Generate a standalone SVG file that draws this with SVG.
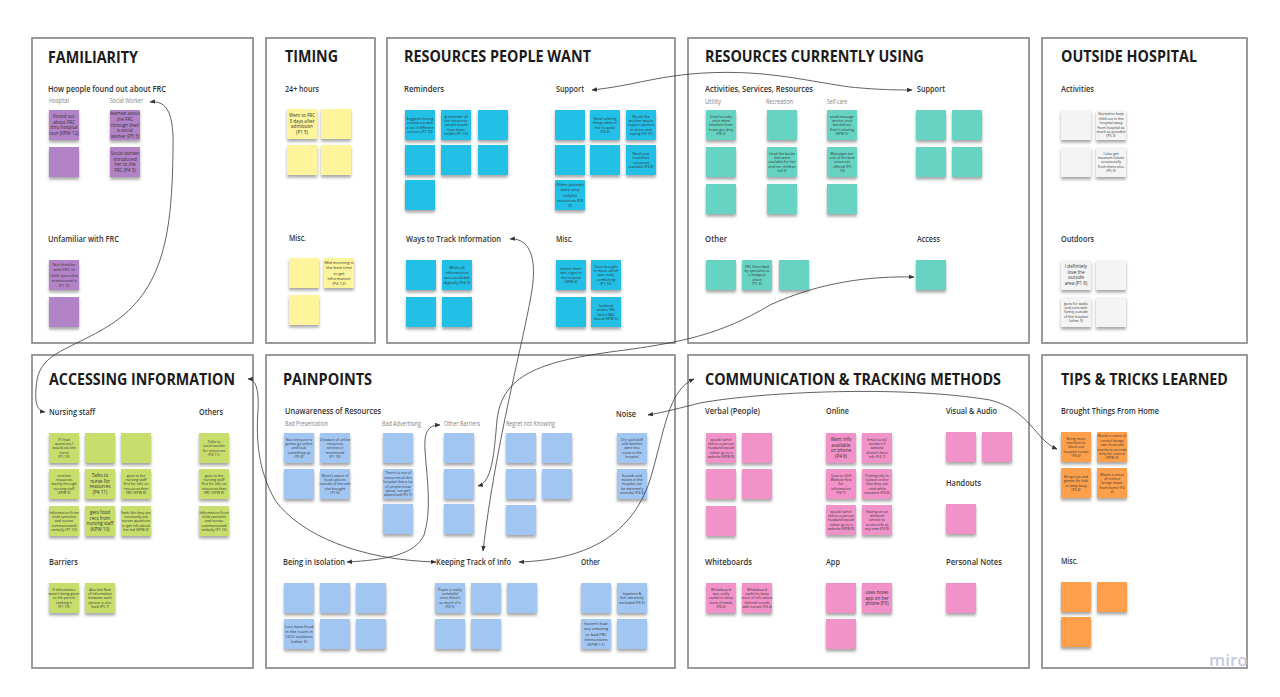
<svg xmlns="http://www.w3.org/2000/svg" width="1280" height="697" viewBox="0 0 1280 697">
<defs>
<style>
.p{fill:#fff;stroke:#8a8a8a;stroke-width:1.7}
.t{font-family:"Open Sans","Liberation Sans",sans-serif;font-weight:700;font-size:16.5px;fill:#1b1b1b}
.h{font-family:"Open Sans","Liberation Sans",sans-serif;font-weight:600;font-size:9.3px;fill:#333}
.s{font-family:"Open Sans","Liberation Sans",sans-serif;font-weight:400;font-size:6.5px;fill:#808080}
.n{font-family:"Open Sans","Liberation Sans",sans-serif;font-size:3.6px;fill:#333;text-anchor:middle}
.nm{font-family:"Open Sans","Liberation Sans",sans-serif;font-size:4.2px;fill:#333;text-anchor:middle}
.nb{font-family:"Open Sans","Liberation Sans",sans-serif;font-size:4.6px;fill:#333;text-anchor:middle}
.pu{fill:#b383c8;filter:url(#sh)}
.ye{fill:#fdf49c;filter:url(#sh)}
.cy{fill:#23bfe7;filter:url(#sh)}
.te{fill:#66d3c3;filter:url(#sh)}
.wh{fill:#f4f4f4;filter:url(#sh)}
.gr{fill:#c8de6c;filter:url(#sh)}
.lb{fill:#a2c6f2;filter:url(#sh)}
.pk{fill:#f192c9;filter:url(#sh)}
.or{fill:#fe9f4b;filter:url(#sh)}
.c{fill:none;stroke:#3a3a3a;stroke-width:0.8;marker-start:url(#ah);marker-end:url(#ah)}
</style>
<filter id="sh" x="-20%" y="-20%" width="140%" height="170%">
<feDropShadow dx="0" dy="2.5" stdDeviation="1.4" flood-color="#000" flood-opacity="0.35"/>
</filter>
<marker id="ah" viewBox="0 0 10 10" refX="9" refY="5" markerWidth="5.5" markerHeight="5.5" orient="auto-start-reverse" markerUnits="userSpaceOnUse">
<path d="M0,1 L10,5 L0,9 z" fill="#333"/>
</marker>
</defs>
<rect x="0" y="0" width="1280" height="697" fill="#fff"/>

<!-- Panels -->
<g id="panels">
<rect class="p" x="32" y="38" width="221" height="305"/>
<rect class="p" x="266" y="38" width="109" height="305"/>
<rect class="p" x="387" y="38" width="288" height="305"/>
<rect class="p" x="688" y="38" width="341" height="305"/>
<rect class="p" x="1042" y="38" width="205" height="305"/>
<rect class="p" x="32" y="355" width="221" height="313"/>
<rect class="p" x="266" y="355" width="409" height="313"/>
<rect class="p" x="688" y="355" width="341" height="313"/>
<rect class="p" x="1042" y="355" width="205" height="313"/>
</g>

<!-- FAMILIARITY -->
<g id="familiarity">
<text class="t" x="48" y="63" textLength="90" lengthAdjust="spacingAndGlyphs">FAMILIARITY</text>
<text class="h" x="48" y="92" textLength="118" lengthAdjust="spacingAndGlyphs">How people found out about FRC</text>
<text class="s" x="49" y="103" textLength="20" lengthAdjust="spacingAndGlyphs">Hospital</text>
<text class="s" x="110" y="103" textLength="33" lengthAdjust="spacingAndGlyphs">Social Worker</text>
<text class="h" x="48" y="242" textLength="71" lengthAdjust="spacingAndGlyphs">Unfamiliar with FRC</text>
<g id="fam-1"><rect class="pu" x="49" y="110" width="30" height="30"/><text class="nb" x="64" y="118.2"><tspan x="64">Found out</tspan><tspan x="64" dy="5.6">about FRC</tspan><tspan x="64" dy="5.6">thru hospital</tspan><tspan x="64" dy="5.6">tour (KPW 12)</tspan></text></g>
<g id="fam-2"><rect class="pu" x="49" y="147" width="30" height="30"/></g>
<g id="fam-3"><rect class="pu" x="110" y="110" width="30" height="30"/><text class="nb" x="125" y="115.4"><tspan x="125">learned about</tspan><tspan x="125" dy="5.6">the FRC</tspan><tspan x="125" dy="5.6">through their</tspan><tspan x="125" dy="5.6">a social</tspan><tspan x="125" dy="5.6">worker (P5 3)</tspan></text></g>
<g id="fam-4"><rect class="pu" x="110" y="147" width="30" height="30"/><text class="nb" x="125" y="155.2"><tspan x="125">Social worker</tspan><tspan x="125" dy="5.6">introduced</tspan><tspan x="125" dy="5.6">her to the</tspan><tspan x="125" dy="5.6">FRC (P4 3)</tspan></text></g>
<g id="fam-5"><rect class="pu" x="49" y="260" width="30" height="30"/><text class="nm" x="64" y="266.1"><tspan x="64">Not familiar</tspan><tspan x="64" dy="5.2">with FRC til</tspan><tspan x="64" dy="5.2">child specialist</tspan><tspan x="64" dy="5.2">mentioned it</tspan><tspan x="64" dy="5.2">(P1 3)</tspan></text></g>
<g id="fam-6"><rect class="pu" x="49" y="297" width="30" height="30"/></g>
</g>

<!-- TIMING -->
<g id="timing">
<text class="t" x="285" y="62" textLength="53" lengthAdjust="spacingAndGlyphs">TIMING</text>
<text class="h" x="285" y="92" textLength="34" lengthAdjust="spacingAndGlyphs">24+ hours</text>
<text class="h" x="289" y="241" textLength="17" lengthAdjust="spacingAndGlyphs">Misc.</text>
<g id="tim-1"><rect class="ye" x="287" y="109" width="30" height="30"/><text class="nb" x="302" y="117.2"><tspan x="302">Went to FRC</tspan><tspan x="302" dy="5.6">3 days after</tspan><tspan x="302" dy="5.6">admission</tspan><tspan x="302" dy="5.6">(P1 5)</tspan></text></g>
<g id="tim-2"><rect class="ye" x="321" y="109" width="30" height="30"/></g>
<g id="tim-3"><rect class="ye" x="287" y="145" width="30" height="30"/></g>
<g id="tim-4"><rect class="ye" x="321" y="145" width="30" height="30"/></g>
<g id="tim-5"><rect class="ye" x="289" y="258" width="30" height="30"/></g>
<g id="tim-6"><rect class="ye" x="324" y="258" width="30" height="30"/><text class="nm" x="339" y="264.1"><tspan x="339">Mid morning is</tspan><tspan x="339" dy="5.2">the best time</tspan><tspan x="339" dy="5.2">to get</tspan><tspan x="339" dy="5.2">information</tspan><tspan x="339" dy="5.2">(P4 12)</tspan></text></g>
<g id="tim-7"><rect class="ye" x="289" y="295" width="30" height="30"/></g>
</g>

<!-- RESOURCES PEOPLE WANT -->
<g id="resources-want">
<text class="t" x="404" y="62" textLength="187" lengthAdjust="spacingAndGlyphs">RESOURCES PEOPLE WANT</text>
<text class="h" x="404" y="92" textLength="40" lengthAdjust="spacingAndGlyphs">Reminders</text>
<text class="h" x="556" y="92" textLength="28" lengthAdjust="spacingAndGlyphs">Support</text>
<text class="h" x="406" y="242" textLength="95" lengthAdjust="spacingAndGlyphs">Ways to Track Information</text>
<text class="h" x="556" y="242" textLength="17" lengthAdjust="spacingAndGlyphs">Misc.</text>
<g id="rw-1"><rect class="cy" x="405" y="110" width="30" height="30"/><text class="n" x="420" y="119.7"><tspan x="420">Suggests having</tspan><tspan x="420" dy="4.4">a hand out with</tspan><tspan x="420" dy="4.4">a list of different</tspan><tspan x="420" dy="4.4">sources (P1 10)</tspan></text></g>
<g id="rw-2"><rect class="cy" x="441" y="110" width="30" height="30"/><text class="n" x="456" y="117.5"><tspan x="456">A reminder of</tspan><tspan x="456" dy="4.4">the resources</tspan><tspan x="456" dy="4.4">people would</tspan><tspan x="456" dy="4.4">have been</tspan><tspan x="456" dy="4.4">helpful (P1 10)</tspan></text></g>
<g id="rw-3"><rect class="cy" x="478" y="110" width="30" height="30"/></g>
<g id="rw-4"><rect class="cy" x="405" y="145" width="30" height="30"/></g>
<g id="rw-5"><rect class="cy" x="441" y="145" width="30" height="30"/></g>
<g id="rw-6"><rect class="cy" x="478" y="145" width="30" height="30"/></g>
<g id="rw-7"><rect class="cy" x="405" y="180" width="30" height="30"/></g>
<g id="rw-8"><rect class="cy" x="555" y="110" width="30" height="30"/></g>
<g id="rw-9"><rect class="cy" x="590" y="110" width="30" height="30"/><text class="n" x="605" y="119.7"><tspan x="605">Need calming</tspan><tspan x="605" dy="4.4">things while in</tspan><tspan x="605" dy="4.4">the hospital</tspan><tspan x="605" dy="4.4">(P4 4)</tspan></text></g>
<g id="rw-10"><rect class="cy" x="626" y="110" width="30" height="30"/><text class="n" x="641" y="117.5"><tspan x="641">Would like</tspan><tspan x="641" dy="4.4">another way to</tspan><tspan x="641" dy="4.4">support parents</tspan><tspan x="641" dy="4.4">in stress and</tspan><tspan x="641" dy="4.4">coping (P4 10)</tspan></text></g>
<g id="rw-11"><rect class="cy" x="555" y="145" width="30" height="30"/></g>
<g id="rw-12"><rect class="cy" x="590" y="145" width="30" height="30"/></g>
<g id="rw-13"><rect class="cy" x="626" y="145" width="30" height="30"/><text class="n" x="641" y="154.7"><tspan x="641">Need post</tspan><tspan x="641" dy="4.4">treatment</tspan><tspan x="641" dy="4.4">resources</tspan><tspan x="641" dy="4.4">available (P4 8)</tspan></text></g>
<g id="rw-14"><rect class="cy" x="555" y="180" width="30" height="30"/><text class="nm" x="570" y="186.1"><tspan x="570">Other parents</tspan><tspan x="570" dy="5.2">were very</tspan><tspan x="570" dy="5.2">helpful</tspan><tspan x="570" dy="5.2">resources (P4</tspan><tspan x="570" dy="5.2">9)</tspan></text></g>
<g id="rw-15"><rect class="cy" x="406" y="260" width="30" height="30"/></g>
<g id="rw-16"><rect class="cy" x="442" y="260" width="30" height="30"/><text class="nm" x="457" y="268.7"><tspan x="457">Wish all</tspan><tspan x="457" dy="5.2">information</tspan><tspan x="457" dy="5.2">was available</tspan><tspan x="457" dy="5.2">digitally (P4 5)</tspan></text></g>
<g id="rw-17"><rect class="cy" x="406" y="297" width="30" height="30"/></g>
<g id="rw-18"><rect class="cy" x="442" y="297" width="30" height="30"/></g>
<g id="rw-19"><rect class="cy" x="556" y="260" width="30" height="30"/><text class="n" x="571" y="269.7"><tspan x="571">wishes there</tspan><tspan x="571" dy="4.4">was a gym in</tspan><tspan x="571" dy="4.4">the hospital</tspan><tspan x="571" dy="4.4">(KPW 4)</tspan></text></g>
<g id="rw-20"><rect class="cy" x="591" y="260" width="30" height="30"/><text class="n" x="606" y="267.5"><tspan x="606">Dose brought</tspan><tspan x="606" dy="4.4">in music which</tspan><tspan x="606" dy="4.4">was really</tspan><tspan x="606" dy="4.4">comforting</tspan><tspan x="606" dy="4.4">(P1 10)</tspan></text></g>
<g id="rw-21"><rect class="cy" x="556" y="297" width="30" height="30"/></g>
<g id="rw-22"><rect class="cy" x="591" y="297" width="30" height="30"/><text class="n" x="606" y="306.7"><tspan x="606">husband</tspan><tspan x="606" dy="4.4">wishes FRC</tspan><tspan x="606" dy="4.4">had a FAQ</tspan><tspan x="606" dy="4.4">board (KPW 5)</tspan></text></g>
</g>

<!-- RESOURCES CURRENTLY USING -->
<g id="resources-using">
<text class="t" x="705" y="62" textLength="219" lengthAdjust="spacingAndGlyphs">RESOURCES CURRENTLY USING</text>
<text class="h" x="705" y="92" textLength="108" lengthAdjust="spacingAndGlyphs">Activities, Services, Resources</text>
<text class="h" x="917" y="92" textLength="28" lengthAdjust="spacingAndGlyphs">Support</text>
<text class="s" x="705" y="104" textLength="16" lengthAdjust="spacingAndGlyphs">Utility</text>
<text class="s" x="766" y="104" textLength="27" lengthAdjust="spacingAndGlyphs">Recreation</text>
<text class="s" x="827" y="104" textLength="20" lengthAdjust="spacingAndGlyphs">Self-care</text>
<text class="h" x="705" y="242" textLength="22" lengthAdjust="spacingAndGlyphs">Other</text>
<text class="h" x="917" y="242" textLength="23" lengthAdjust="spacingAndGlyphs">Access</text>
<g id="ru-1"><rect class="te" x="706" y="110" width="30" height="30"/><text class="n" x="721" y="117.5"><tspan x="721">Used laundry</tspan><tspan x="721" dy="4.4">once when</tspan><tspan x="721" dy="4.4">blankets from</tspan><tspan x="721" dy="4.4">home got dirty</tspan><tspan x="721" dy="4.4">(P4 3)</tspan></text></g>
<g id="ru-2"><rect class="te" x="767" y="110" width="30" height="30"/></g>
<g id="ru-3"><rect class="te" x="827" y="110" width="30" height="30"/><text class="n" x="842" y="117.5"><tspan x="842">used massage</tspan><tspan x="842" dy="4.4">service once</tspan><tspan x="842" dy="4.4">but did not</tspan><tspan x="842" dy="4.4">find it relaxing</tspan><tspan x="842" dy="4.4">(KPW 5)</tspan></text></g>
<g id="ru-4"><rect class="te" x="706" y="147" width="30" height="30"/></g>
<g id="ru-5"><rect class="te" x="767" y="147" width="30" height="30"/><text class="n" x="782" y="154.5"><tspan x="782">Used the books</tspan><tspan x="782" dy="4.4">that were</tspan><tspan x="782" dy="4.4">available for her</tspan><tspan x="782" dy="4.4">and her children</tspan><tspan x="782" dy="4.4">(x4 3)</tspan></text></g>
<g id="ru-6"><rect class="te" x="827" y="147" width="30" height="30"/><text class="n" x="842" y="154.5"><tspan x="842">Massages are</tspan><tspan x="842" dy="4.4">one of the best</tspan><tspan x="842" dy="4.4">resources</tspan><tspan x="842" dy="4.4">offered (P5</tspan><tspan x="842" dy="4.4">13)</tspan></text></g>
<g id="ru-7"><rect class="te" x="706" y="184" width="30" height="30"/></g>
<g id="ru-8"><rect class="te" x="767" y="184" width="30" height="30"/></g>
<g id="ru-9"><rect class="te" x="827" y="184" width="30" height="30"/></g>
<g id="ru-10"><rect class="te" x="916" y="110" width="30" height="30"/></g>
<g id="ru-11"><rect class="te" x="952" y="110" width="30" height="30"/></g>
<g id="ru-12"><rect class="te" x="916" y="147" width="30" height="30"/></g>
<g id="ru-13"><rect class="te" x="952" y="147" width="30" height="30"/></g>
<g id="ru-14"><rect class="te" x="706" y="260" width="30" height="30"/></g>
<g id="ru-15"><rect class="te" x="742" y="260" width="30" height="30"/><text class="n" x="757" y="267.5"><tspan x="757">FRC Described</tspan><tspan x="757" dy="4.4">by specialist as</tspan><tspan x="757" dy="4.4">a hangout</tspan><tspan x="757" dy="4.4">place</tspan><tspan x="757" dy="4.4">(P1 4)</tspan></text></g>
<g id="ru-16"><rect class="te" x="779" y="260" width="30" height="30"/></g>
<g id="ru-17"><rect class="te" x="916" y="260" width="30" height="30"/></g>
</g>

<!-- OUTSIDE HOSPITAL -->
<g id="outside-hospital">
<text class="t" x="1061" y="62" textLength="136" lengthAdjust="spacingAndGlyphs">OUTSIDE HOSPITAL</text>
<text class="h" x="1061" y="92" textLength="33" lengthAdjust="spacingAndGlyphs">Activities</text>
<text class="h" x="1061" y="242" textLength="33" lengthAdjust="spacingAndGlyphs">Outdoors</text>
<g id="oh-1"><rect class="wh" x="1061" y="110" width="30" height="30"/></g>
<g id="oh-2"><rect class="wh" x="1096" y="110" width="30" height="30"/><text class="n" x="1111" y="115.3"><tspan x="1111">Started to keep</tspan><tspan x="1111" dy="4.4">child out in the</tspan><tspan x="1111" dy="4.4">hospital away</tspan><tspan x="1111" dy="4.4">from hospital as</tspan><tspan x="1111" dy="4.4">much as possible</tspan><tspan x="1111" dy="4.4">(P5 3)</tspan></text></g>
<g id="oh-3"><rect class="wh" x="1061" y="147" width="30" height="30"/></g>
<g id="oh-4"><rect class="wh" x="1096" y="147" width="30" height="30"/><text class="n" x="1111" y="154.5"><tspan x="1111">I also get</tspan><tspan x="1111" dy="4.4">museum tickets</tspan><tspan x="1111" dy="4.4">occasionally</tspan><tspan x="1111" dy="4.4">from there also</tspan><tspan x="1111" dy="4.4">(P5 3)</tspan></text></g>
<g id="oh-5"><rect class="wh" x="1061" y="260" width="30" height="30"/><text class="nb" x="1076" y="268.2"><tspan x="1076">I definitely</tspan><tspan x="1076" dy="5.6">love the</tspan><tspan x="1076" dy="5.6">outside</tspan><tspan x="1076" dy="5.6">area (P1 8)</tspan></text></g>
<g id="oh-6"><rect class="wh" x="1096" y="260" width="30" height="30"/></g>
<g id="oh-7"><rect class="wh" x="1061" y="297" width="30" height="30"/><text class="n" x="1076" y="304.5"><tspan x="1076">goes for walks</tspan><tspan x="1076" dy="4.4">and runs with</tspan><tspan x="1076" dy="4.4">family outside</tspan><tspan x="1076" dy="4.4">of the hospital</tspan><tspan x="1076" dy="4.4">(other 5)</tspan></text></g>
<g id="oh-8"><rect class="wh" x="1096" y="297" width="30" height="30"/></g>
</g>

<!-- ACCESSING INFORMATION -->
<g id="accessing-information">
<text class="t" x="49" y="385" textLength="186" lengthAdjust="spacingAndGlyphs">ACCESSING INFORMATION</text>
<text class="h" x="49" y="415" textLength="46" lengthAdjust="spacingAndGlyphs">Nursing staff</text>
<text class="h" x="199" y="415" textLength="24" lengthAdjust="spacingAndGlyphs">Others</text>
<text class="h" x="49" y="565" textLength="29" lengthAdjust="spacingAndGlyphs">Barriers</text>
<g id="ai-1"><rect class="gr" x="49" y="433" width="30" height="30"/><text class="n" x="64" y="440.5"><tspan x="64">If I had</tspan><tspan x="64" dy="4.4">questions I</tspan><tspan x="64" dy="4.4">would ask the</tspan><tspan x="64" dy="4.4">nurse</tspan><tspan x="64" dy="4.4">(P1 10)</tspan></text></g>
<g id="ai-2"><rect class="gr" x="85" y="433" width="30" height="30"/></g>
<g id="ai-3"><rect class="gr" x="121" y="433" width="30" height="30"/></g>
<g id="ai-4"><rect class="gr" x="49" y="469" width="30" height="30"/><text class="n" x="64" y="476.5"><tspan x="64">receives</tspan><tspan x="64" dy="4.4">resources</tspan><tspan x="64" dy="4.4">mainly through</tspan><tspan x="64" dy="4.4">nursing staff</tspan><tspan x="64" dy="4.4">(KPW 9)</tspan></text></g>
<g id="ai-5"><rect class="gr" x="85" y="469" width="30" height="30"/><text class="nb" x="100" y="477.2"><tspan x="100">Talks to</tspan><tspan x="100" dy="5.6">nurse for</tspan><tspan x="100" dy="5.6">resources</tspan><tspan x="100" dy="5.6">(P4 11)</tspan></text></g>
<g id="ai-6"><rect class="gr" x="121" y="469" width="30" height="30"/><text class="n" x="136" y="476.5"><tspan x="136">goes to the</tspan><tspan x="136" dy="4.4">nursing staff</tspan><tspan x="136" dy="4.4">first for info on</tspan><tspan x="136" dy="4.4">resources then</tspan><tspan x="136" dy="4.4">FRC (KPW 8)</tspan></text></g>
<g id="ai-7"><rect class="gr" x="49" y="506" width="30" height="30"/><text class="n" x="64" y="513.5"><tspan x="64">Information from</tspan><tspan x="64" dy="4.4">child specialist</tspan><tspan x="64" dy="4.4">and nurses</tspan><tspan x="64" dy="4.4">communicated</tspan><tspan x="64" dy="4.4">verbally (P1 10)</tspan></text></g>
<g id="ai-8"><rect class="gr" x="85" y="506" width="30" height="30"/><text class="nb" x="100" y="514.2"><tspan x="100">gets food</tspan><tspan x="100" dy="5.6">recs from</tspan><tspan x="100" dy="5.6">nursing staff</tspan><tspan x="100" dy="5.6">(KPW 10)</tspan></text></g>
<g id="ai-9"><rect class="gr" x="121" y="506" width="30" height="30"/><text class="n" x="136" y="513.5"><tspan x="136">feels like they can</tspan><tspan x="136" dy="4.4">constantly ask</tspan><tspan x="136" dy="4.4">nurses questions</tspan><tspan x="136" dy="4.4">to get info about</tspan><tspan x="136" dy="4.4">her kid (KPW 4)</tspan></text></g>
<g id="ai-10"><rect class="gr" x="199" y="433" width="30" height="30"/><text class="n" x="214" y="442.7"><tspan x="214">Talks to</tspan><tspan x="214" dy="4.4">social worker</tspan><tspan x="214" dy="4.4">for resources</tspan><tspan x="214" dy="4.4">(P4 11)</tspan></text></g>
<g id="ai-11"><rect class="gr" x="199" y="469" width="30" height="30"/><text class="n" x="214" y="476.5"><tspan x="214">goes to the</tspan><tspan x="214" dy="4.4">nursing staff</tspan><tspan x="214" dy="4.4">first for info on</tspan><tspan x="214" dy="4.4">resources then</tspan><tspan x="214" dy="4.4">FRC (KPW 8)</tspan></text></g>
<g id="ai-12"><rect class="gr" x="199" y="506" width="30" height="30"/><text class="n" x="214" y="513.5"><tspan x="214">Information from</tspan><tspan x="214" dy="4.4">child specialist</tspan><tspan x="214" dy="4.4">and nurses</tspan><tspan x="214" dy="4.4">communicated</tspan><tspan x="214" dy="4.4">verbally (P1 10)</tspan></text></g>
<g id="ai-13"><rect class="gr" x="49" y="583" width="30" height="30"/><text class="n" x="64" y="590.5"><tspan x="64">If information</tspan><tspan x="64" dy="4.4">wasn't being given</tspan><tspan x="64" dy="4.4">to the parent</tspan><tspan x="64" dy="4.4">seeking it</tspan><tspan x="64" dy="4.4">(P1 10)</tspan></text></g>
<g id="ai-14"><rect class="gr" x="85" y="583" width="30" height="30"/><text class="n" x="100" y="590.5"><tspan x="100">Also the flow</tspan><tspan x="100" dy="4.4">of information</tspan><tspan x="100" dy="4.4">between each</tspan><tspan x="100" dy="4.4">person is also</tspan><tspan x="100" dy="4.4">hard (P5 7)</tspan></text></g>
</g>

<!-- PAINPOINTS -->
<g id="painpoints">
<text class="t" x="283" y="385" textLength="89" lengthAdjust="spacingAndGlyphs">PAINPOINTS</text>
<text class="h" x="285" y="414" textLength="96" lengthAdjust="spacingAndGlyphs">Unawareness of Resources</text>
<text class="s" x="285" y="426" textLength="43" lengthAdjust="spacingAndGlyphs">Bad Presentation</text>
<text class="s" x="382" y="426" textLength="39" lengthAdjust="spacingAndGlyphs">Bad Advertising</text>
<text class="s" x="444" y="426" textLength="36" lengthAdjust="spacingAndGlyphs">Other Barriers</text>
<text class="s" x="506" y="426" textLength="49" lengthAdjust="spacingAndGlyphs">Regret not Knowing</text>
<text class="h" x="616" y="417" textLength="20" lengthAdjust="spacingAndGlyphs">Noise</text>
<text class="h" x="283" y="565" textLength="62" lengthAdjust="spacingAndGlyphs">Being in Isolation</text>
<text class="h" x="436" y="565" textLength="75" lengthAdjust="spacingAndGlyphs">Keeping Track of Info</text>
<text class="h" x="581" y="565" textLength="19" lengthAdjust="spacingAndGlyphs">Other</text>
<g id="pp-1"><rect class="lb" x="284" y="433" width="30" height="30"/><text class="n" x="299" y="440.5"><tspan x="299">Not everyone is</tspan><tspan x="299" dy="4.4">gonna go online</tspan><tspan x="299" dy="4.4">and look</tspan><tspan x="299" dy="4.4">something up</tspan><tspan x="299" dy="4.4">(P5 8)</tspan></text></g>
<g id="pp-2"><rect class="lb" x="320" y="433" width="30" height="30"/><text class="n" x="335" y="440.5"><tspan x="335">Unaware of online</tspan><tspan x="335" dy="4.4">resources</tspan><tspan x="335" dy="4.4">services it</tspan><tspan x="335" dy="4.4">mentioned</tspan><tspan x="335" dy="4.4">(P1 10)</tspan></text></g>
<g id="pp-3"><rect class="lb" x="284" y="469" width="30" height="30"/></g>
<g id="pp-4"><rect class="lb" x="320" y="469" width="30" height="30"/><text class="n" x="335" y="476.5"><tspan x="335">Wasn't aware of</tspan><tspan x="335" dy="4.4">food options</tspan><tspan x="335" dy="4.4">outside of the cafe</tspan><tspan x="335" dy="4.4">she brought</tspan><tspan x="335" dy="4.4">(P1 6)</tspan></text></g>
<g id="pp-5"><rect class="lb" x="383" y="433" width="30" height="30"/></g>
<g id="pp-6"><rect class="lb" x="383" y="469" width="30" height="30"/><text class="n" x="398" y="474.3"><tspan x="398">There's a ton of</tspan><tspan x="398" dy="4.4">resources at this</tspan><tspan x="398" dy="4.4">hospital that a lot</tspan><tspan x="398" dy="4.4">of people know</tspan><tspan x="398" dy="4.4">about, not well</tspan><tspan x="398" dy="4.4">advertised (P5 7)</tspan></text></g>
<g id="pp-7"><rect class="lb" x="383" y="504" width="30" height="30"/></g>
<g id="pp-8"><rect class="lb" x="444" y="433" width="30" height="30"/></g>
<g id="pp-9"><rect class="lb" x="444" y="469" width="30" height="30"/></g>
<g id="pp-10"><rect class="lb" x="444" y="504" width="30" height="30"/></g>
<g id="pp-11"><rect class="lb" x="506" y="433" width="30" height="30"/></g>
<g id="pp-12"><rect class="lb" x="542" y="433" width="30" height="30"/></g>
<g id="pp-13"><rect class="lb" x="506" y="469" width="30" height="30"/></g>
<g id="pp-14"><rect class="lb" x="542" y="469" width="30" height="30"/></g>
<g id="pp-15"><rect class="lb" x="506" y="505" width="30" height="30"/></g>
<g id="pp-16"><rect class="lb" x="617" y="433" width="30" height="30"/><text class="n" x="632" y="440.5"><tspan x="632">Dry said staff</tspan><tspan x="632" dy="4.4">and families</tspan><tspan x="632" dy="4.4">were less</tspan><tspan x="632" dy="4.4">noise in the</tspan><tspan x="632" dy="4.4">hospital</tspan></text></g>
<g id="pp-17"><rect class="lb" x="617" y="469" width="30" height="30"/><text class="n" x="632" y="476.5"><tspan x="632">Sounds and</tspan><tspan x="632" dy="4.4">noises in the</tspan><tspan x="632" dy="4.4">hospital can</tspan><tspan x="632" dy="4.4">be extremely</tspan><tspan x="632" dy="4.4">stressful (P4 4)</tspan></text></g>
<g id="pp-18"><rect class="lb" x="284" y="583" width="30" height="30"/></g>
<g id="pp-19"><rect class="lb" x="320" y="583" width="30" height="30"/></g>
<g id="pp-20"><rect class="lb" x="356" y="583" width="30" height="30"/></g>
<g id="pp-21"><rect class="lb" x="284" y="619" width="30" height="30"/><text class="nm" x="299" y="627.7"><tspan x="299">Lars have food</tspan><tspan x="299" dy="5.2">in the room in</tspan><tspan x="299" dy="5.2">CICU isolation</tspan><tspan x="299" dy="5.2">(other 5)</tspan></text></g>
<g id="pp-22"><rect class="lb" x="320" y="619" width="30" height="30"/></g>
<g id="pp-23"><rect class="lb" x="356" y="619" width="30" height="30"/></g>
<g id="pp-24"><rect class="lb" x="435" y="583" width="30" height="30"/><text class="n" x="450" y="590.5"><tspan x="450">Paper is really</tspan><tspan x="450" dy="4.4">unhelpful</tspan><tspan x="450" dy="4.4">since there's</tspan><tspan x="450" dy="4.4">so much of it</tspan><tspan x="450" dy="4.4">(P4 5)</tspan></text></g>
<g id="pp-25"><rect class="lb" x="471" y="583" width="30" height="30"/></g>
<g id="pp-26"><rect class="lb" x="507" y="583" width="30" height="30"/></g>
<g id="pp-27"><rect class="lb" x="435" y="619" width="30" height="30"/></g>
<g id="pp-28"><rect class="lb" x="471" y="619" width="30" height="30"/></g>
<g id="pp-29"><rect class="lb" x="581" y="583" width="30" height="30"/></g>
<g id="pp-30"><rect class="lb" x="617" y="583" width="30" height="30"/><text class="n" x="632" y="594.9"><tspan x="632">Inpatient &amp;</tspan><tspan x="632" dy="4.4">feel extremely</tspan><tspan x="632" dy="4.4">excluded (P4 3)</tspan></text></g>
<g id="pp-31"><rect class="lb" x="581" y="619" width="30" height="30"/><text class="nm" x="596" y="625.1"><tspan x="596">haven't had</tspan><tspan x="596" dy="5.2">any amazing</tspan><tspan x="596" dy="5.2">or bad FRC</tspan><tspan x="596" dy="5.2">interactions</tspan><tspan x="596" dy="5.2">(KPW 11)</tspan></text></g>
<g id="pp-32"><rect class="lb" x="617" y="619" width="30" height="30"/></g>
</g>

<!-- COMMUNICATION & TRACKING METHODS -->
<g id="communication">
<text class="t" x="705" y="385" textLength="296" lengthAdjust="spacingAndGlyphs">COMMUNICATION &amp; TRACKING METHODS</text>
<text class="h" x="705" y="414" textLength="55" lengthAdjust="spacingAndGlyphs">Verbal (People)</text>
<text class="h" x="826" y="414" textLength="23" lengthAdjust="spacingAndGlyphs">Online</text>
<text class="h" x="946" y="414" textLength="51" lengthAdjust="spacingAndGlyphs">Visual &amp; Audio</text>
<text class="h" x="946" y="486" textLength="35" lengthAdjust="spacingAndGlyphs">Handouts</text>
<text class="h" x="705" y="565" textLength="47" lengthAdjust="spacingAndGlyphs">Whiteboards</text>
<text class="h" x="826" y="565" textLength="14" lengthAdjust="spacingAndGlyphs">App</text>
<text class="h" x="946" y="565" textLength="56" lengthAdjust="spacingAndGlyphs">Personal Notes</text>
<g id="ct-1"><rect class="pk" x="706" y="433" width="30" height="30"/><text class="n" x="721" y="440.5"><tspan x="721">would rather</tspan><tspan x="721" dy="4.4">talk to a person</tspan><tspan x="721" dy="4.4">husband would</tspan><tspan x="721" dy="4.4">rather go to a</tspan><tspan x="721" dy="4.4">website (KPW 8)</tspan></text></g>
<g id="ct-2"><rect class="pk" x="742" y="433" width="30" height="30"/></g>
<g id="ct-3"><rect class="pk" x="706" y="469" width="30" height="30"/></g>
<g id="ct-4"><rect class="pk" x="742" y="469" width="30" height="30"/></g>
<g id="ct-5"><rect class="pk" x="706" y="506" width="30" height="30"/></g>
<g id="ct-6"><rect class="pk" x="826" y="433" width="30" height="30"/><text class="nb" x="841" y="441.2"><tspan x="841">Want info</tspan><tspan x="841" dy="5.6">available</tspan><tspan x="841" dy="5.6">on phone</tspan><tspan x="841" dy="5.6">(P4 8)</tspan></text></g>
<g id="ct-7"><rect class="pk" x="862" y="433" width="30" height="30"/><text class="n" x="877" y="440.5"><tspan x="877">Email social</tspan><tspan x="877" dy="4.4">workers if</tspan><tspan x="877" dy="4.4">website</tspan><tspan x="877" dy="4.4">doesn't have</tspan><tspan x="877" dy="4.4">info (P4 7)</tspan></text></g>
<g id="ct-8"><rect class="pk" x="826" y="469" width="30" height="30"/><text class="n" x="841" y="476.5"><tspan x="841">Goes to SCH</tspan><tspan x="841" dy="4.4">Website first</tspan><tspan x="841" dy="4.4">for</tspan><tspan x="841" dy="4.4">information</tspan><tspan x="841" dy="4.4">(P4 7)</tspan></text></g>
<g id="ct-9"><rect class="pk" x="862" y="469" width="30" height="30"/><text class="n" x="877" y="476.5"><tspan x="877">Putting info in</tspan><tspan x="877" dy="4.4">a place online</tspan><tspan x="877" dy="4.4">that they can</tspan><tspan x="877" dy="4.4">read while</tspan><tspan x="877" dy="4.4">inpatient (P4 8)</tspan></text></g>
<g id="ct-10"><rect class="pk" x="826" y="505" width="30" height="30"/><text class="n" x="841" y="512.5"><tspan x="841">would rather</tspan><tspan x="841" dy="4.4">talk to a person</tspan><tspan x="841" dy="4.4">husband would</tspan><tspan x="841" dy="4.4">rather go to a</tspan><tspan x="841" dy="4.4">website (KPW 8)</tspan></text></g>
<g id="ct-11"><rect class="pk" x="862" y="505" width="30" height="30"/><text class="n" x="877" y="512.5"><tspan x="877">Having an on</tspan><tspan x="877" dy="4.4">demand</tspan><tspan x="877" dy="4.4">service to</tspan><tspan x="877" dy="4.4">access info at</tspan><tspan x="877" dy="4.4">any time (P4 8)</tspan></text></g>
<g id="ct-12"><rect class="pk" x="946" y="432" width="30" height="30"/></g>
<g id="ct-13"><rect class="pk" x="982" y="432" width="30" height="30"/></g>
<g id="ct-14"><rect class="pk" x="946" y="504" width="30" height="30"/></g>
<g id="ct-15"><rect class="pk" x="706" y="583" width="30" height="30"/><text class="n" x="721" y="590.5"><tspan x="721">Whiteboard</tspan><tspan x="721" dy="4.4">was really</tspan><tspan x="721" dy="4.4">useful to keep</tspan><tspan x="721" dy="4.4">track of meds</tspan><tspan x="721" dy="4.4">(P4 4)</tspan></text></g>
<g id="ct-16"><rect class="pk" x="742" y="583" width="30" height="30"/><text class="n" x="757" y="590.5"><tspan x="757">Whiteboard</tspan><tspan x="757" dy="4.4">useful to keep</tspan><tspan x="757" dy="4.4">track of info about</tspan><tspan x="757" dy="4.4">kid and rounds</tspan><tspan x="757" dy="4.4">with nurses (P4 4)</tspan></text></g>
<g id="ct-17"><rect class="pk" x="826" y="583" width="30" height="30"/></g>
<g id="ct-18"><rect class="pk" x="862" y="583" width="30" height="30"/><text class="nb" x="877" y="594"><tspan x="877">uses notes</tspan><tspan x="877" dy="5.6">app on her</tspan><tspan x="877" dy="5.6">phone (P3)</tspan></text></g>
<g id="ct-19"><rect class="pk" x="826" y="619" width="30" height="30"/></g>
<g id="ct-20"><rect class="pk" x="946" y="583" width="30" height="30"/></g>
</g>

<!-- TIPS & TRICKS LEARNED -->
<g id="tips-tricks">
<text class="t" x="1061" y="385" textLength="167" lengthAdjust="spacingAndGlyphs">TIPS &amp; TRICKS LEARNED</text>
<text class="h" x="1061" y="414" textLength="98" lengthAdjust="spacingAndGlyphs">Brought Things From Home</text>
<text class="h" x="1061" y="564" textLength="17" lengthAdjust="spacingAndGlyphs">Misc.</text>
<g id="tt-1"><rect class="or" x="1061" y="432" width="30" height="30"/><text class="n" x="1076" y="439.5"><tspan x="1076">Bring noise</tspan><tspan x="1076" dy="4.4">machine to</tspan><tspan x="1076" dy="4.4">block out</tspan><tspan x="1076" dy="4.4">hospital noises</tspan><tspan x="1076" dy="4.4">(P4 4)</tspan></text></g>
<g id="tt-2"><rect class="or" x="1097" y="432" width="30" height="30"/><text class="n" x="1112" y="437.3"><tspan x="1112">Wants a sense of</tspan><tspan x="1112" dy="4.4">control brings</tspan><tspan x="1112" dy="4.4">own food and</tspan><tspan x="1112" dy="4.4">snacks to provide</tspan><tspan x="1112" dy="4.4">help for control</tspan><tspan x="1112" dy="4.4">(KPW 4)</tspan></text></g>
<g id="tt-3"><rect class="or" x="1061" y="468" width="30" height="30"/><text class="n" x="1076" y="477.7"><tspan x="1076">Bring toys and</tspan><tspan x="1076" dy="4.4">games for kids</tspan><tspan x="1076" dy="4.4">to keep busy</tspan><tspan x="1076" dy="4.4">(P4 4)</tspan></text></g>
<g id="tt-4"><rect class="or" x="1097" y="468" width="30" height="30"/><text class="n" x="1112" y="475.5"><tspan x="1112">Wants a sense</tspan><tspan x="1112" dy="4.4">of control</tspan><tspan x="1112" dy="4.4">brings meals</tspan><tspan x="1112" dy="4.4">from home (P4</tspan><tspan x="1112" dy="4.4">4)</tspan></text></g>
<g id="tt-5"><rect class="or" x="1061" y="582" width="30" height="30"/></g>
<g id="tt-6"><rect class="or" x="1097" y="582" width="30" height="30"/></g>
<g id="tt-7"><rect class="or" x="1061" y="617" width="30" height="30"/></g>
</g>

<!-- Connectors -->
<g id="connectors">
<path class="c" d="M150,102 C168,100 174,115 173,150 C172,230 165,290 110,325 C70,350 42,352 37,380 C34,400 36,411 45,412"/>
<path class="c" d="M592,90 C630,86 650,78 690,74 C760,68 800,80 850,87 C880,90 900,90 912,90"/>
<path class="c" d="M510,239 C525,238 538,250 532,290 C524,340 496,440 483,551"/>
<path class="c" d="M478,486 C492,482 494,455 497,420 C502,375 540,362 610,352 C680,343 720,335 770,305 C820,282 870,276 914,277"/>
<path class="c" d="M440,425 C428,425 424,432 425,450 C427,480 432,510 424,535 C415,555 385,560 347,562"/>
<path class="c" d="M248,379 C256,379 259,390 258,410 C256,440 258,470 275,500 C300,535 360,560 436,562"/>
<path class="c" d="M519,562 C580,560 630,540 650,480 C665,430 668,390 694,379"/>
<path class="c" d="M648,415 C665,412 680,408 700,403 C760,392 900,385 990,400 C1030,410 1035,440 1057,449"/>
</g>

<text x="1209" y="666" font-family="Open Sans, Liberation Sans, sans-serif" font-weight="600" font-size="17" fill="#c6c9de">miro</text>
</svg>
